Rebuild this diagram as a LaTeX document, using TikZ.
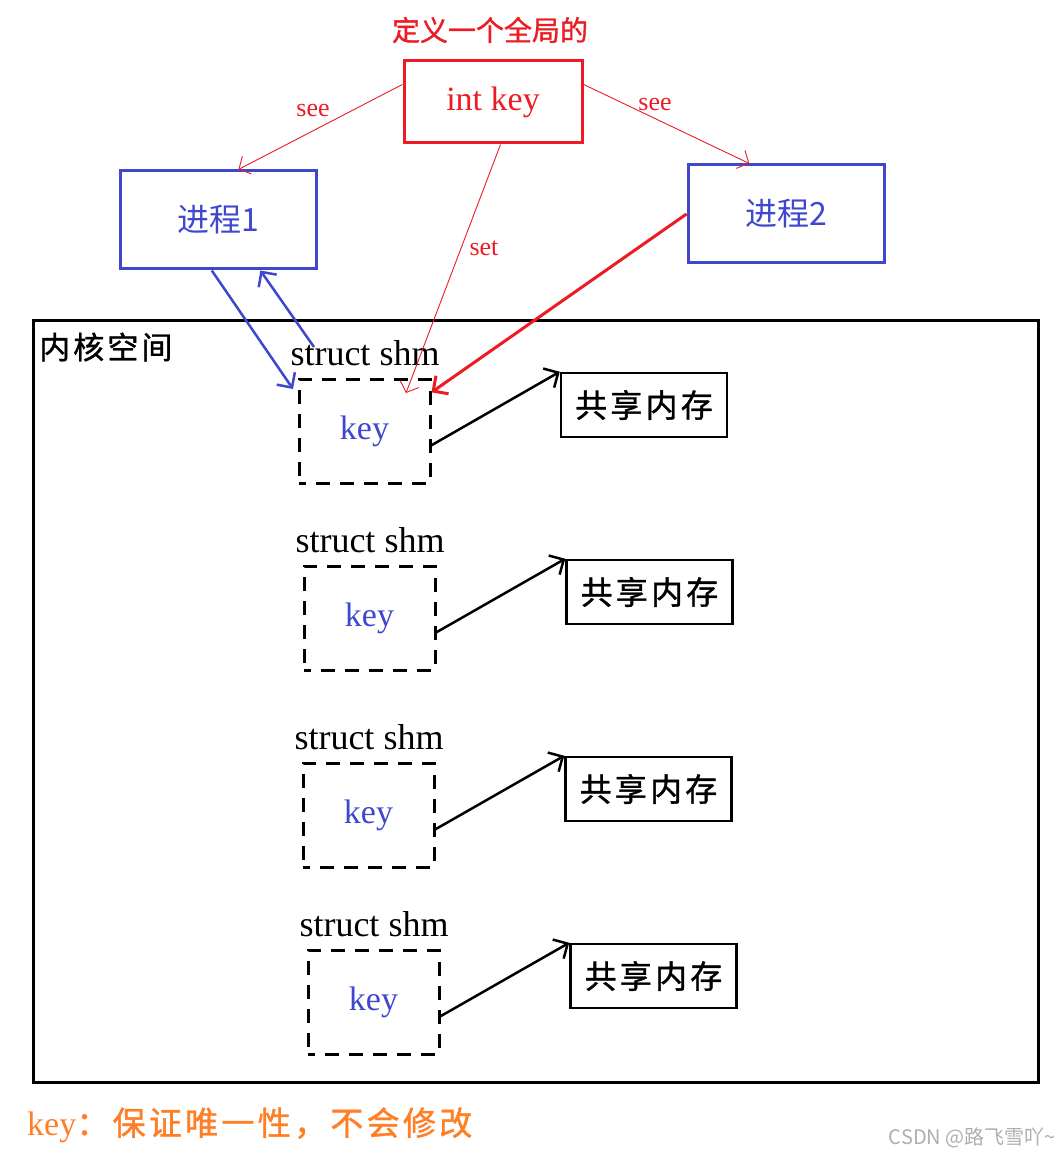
\documentclass[tikz,border=0pt]{standalone}
\usepackage{fontspec}
\setmainfont{Liberation Serif}
\newfontfamily\cjk{Noto Sans CJK SC}
\newfontfamily\cjkb[FakeBold=1.2]{Noto Sans CJK SC}
\newfontfamily\cjkbsp[FakeBold=1.2,LetterSpace=10]{Noto Sans CJK SC}
\usetikzlibrary{arrows.meta}
\definecolor{pred}{RGB}{237,28,36}
\definecolor{pblue}{RGB}{63,72,204}
\definecolor{porange}{RGB}{255,127,39}
\definecolor{pgray}{RGB}{175,175,175}
\newcommand{\fsz}[1]{\fontsize{#1}{#1}\selectfont}
\tikzset{
  redbox/.style={draw=pred, line width=3pt, minimum width=178pt, minimum height=82pt, inner sep=0pt, text=pred, font=\fsz{34}},
  bluebox/.style={draw=pblue, line width=3pt, minimum width=196pt, minimum height=98pt, inner sep=0pt, text=pblue, font=\cjk\fsz{32}},
  shmbox/.style={draw=black, line width=3pt, dash pattern=on 14pt off 10pt, dash phase=7pt, minimum width=131pt, minimum height=104pt, inner sep=0pt, text=pblue, font=\fsz{34}},
  membox/.style={draw=black, line width=2.5pt, minimum width=166pt, minimum height=64pt, inner sep=0pt, font=\cjkbsp\fsz{32}},
  shmlabel/.style={font=\fsz{36}, inner sep=0pt},
  redlabel/.style={text=pred, font=\fsz{26}, inner sep=0pt},
  barb/.style={-{Straight Barb[length=11pt,width=22pt]}},
  thinbarb/.style={-{Straight Barb[length=9pt,width=20pt]}},
  memarrow/.style={barb, line width=2.5pt, black},
}
\begin{document}
\begin{tikzpicture}[x=1pt,y=-1pt]
\useasboundingbox (0,0) rectangle (1059,1155);
\fill[white] (0,0) rectangle (1059,1155);

% top
\node[text=pred, font=\cjkb\fsz{28}, inner sep=0pt] (title) at (490,30) {定义一个全局的};
\node[redbox] (ik) at (493,102) {int key};
\node[bluebox] (p1) at (218,220) {进程1};
\node[bluebox] (p2) at (786,214) {进程2};

% kernel space
\node[draw=black, line width=3pt, minimum width=1005pt, minimum height=762pt, inner sep=0pt] (kernel) at (535.5,701) {};
\node[anchor=west, font=\cjkbsp\fsz{31}, inner sep=0pt] (kname) at (39,347) {内核空间};

% struct shm blocks
\node[shmlabel] (s1) at (365,353) {struct shm};
\node[shmlabel] (s2) at (370,540) {struct shm};
\node[shmlabel] (s3) at (369,737) {struct shm};
\node[shmlabel] (s4) at (374,924) {struct shm};

\node[shmbox] (d1) at (364.5,431) {key};
\node[shmbox] (d2) at (369.5,618) {key};
\node[shmbox] (d3) at (368.5,815) {key};
\node[shmbox] (d4) at (373.5,1002) {key};

\node[membox] (m1) at (644,405) {共享内存};
\node[membox] (m2) at (649.5,592) {共享内存};
\node[membox] (m3) at (648.5,789) {共享内存};
\node[membox] (m4) at (653.5,976) {共享内存};

\draw[memarrow] (d1.-12) -- (m1.north west);
\draw[memarrow] (d2.-12) -- (m2.north west);
\draw[memarrow] (d3.-12) -- (m3.north west);
\draw[memarrow] (d4.-12) -- (m4.north west);

% see / set arrows
\draw[pred, line width=0.9pt, thinbarb] (ik.169) -- (p1.68);
\draw[pred, line width=0.9pt, thinbarb] (ik.11) -- (p2.126);
\node[redlabel] (see1) at (313,111) {see};
\node[redlabel] (see2) at (655,105) {see};
\coordinate (settip) at (406,393);
\draw[pred, line width=0.9pt, thinbarb] (ik.-80) -- (settip);
\node[redlabel] (setlbl) at (484,248) {set};
\draw[pred, line width=3pt, barb] (p2.west) -- (d1.30);

% blue arrows
\coordinate (bdown) at (293,389);
\coordinate (bup) at (314,347);
\draw[pblue, line width=2.5pt, barb] (p1.-97) -- (bdown);
\draw[pblue, line width=2.5pt, barb] (bup) -- (p1.-50);

% footer
\node[anchor=west, text=porange, font=\fsz{34}, inner sep=0pt] (note) at (27,1125) {key{\cjkbsp\fsz{33}：保证唯一性，不会修改}};
\node[anchor=east, text=pgray, font=\cjk\fsz{20}, inner sep=0pt] (wm) at (1056,1138) {CSDN @路飞雪吖\textasciitilde};
\end{tikzpicture}
\end{document}
